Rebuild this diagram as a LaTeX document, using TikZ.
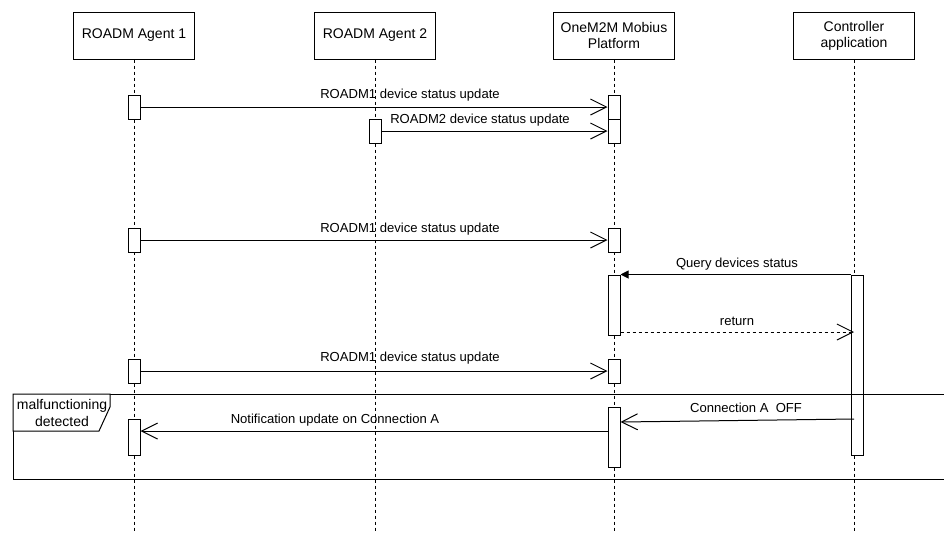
\documentclass[tikz,border=0pt]{standalone}
\usepackage{fontspec}
\setmainfont{Liberation Sans}
\usetikzlibrary{arrows.meta}

\begin{document}
\begin{tikzpicture}[x=0.75pt,y=-0.75pt,line width=0.75pt,
  actor/.style={draw,fill=white,minimum width=90.75pt,minimum height=35.25pt,
    align=center,inner sep=0pt,font=\fontsize{10.5}{12}\selectfont},
  lifeline/.style={dash pattern=on 2.25pt off 2.25pt},
  act/.style={draw,fill=white,minimum width=9pt,inner sep=0pt},
  msg/.style={-{Straight Barb[length=12pt,width=12pt]}},
  call/.style={-{Triangle[length=6pt,width=6pt]}},
  ret/.style={dash pattern=on 2.25pt off 2.25pt,-{Straight Barb[length=12pt,width=12pt]}},
  lbl/.style={inner sep=0pt,font=\fontsize{9.8}{12}\selectfont},
  fraglbl/.style={inner sep=0pt,align=center,font=\fontsize{10.5}{12.5}\selectfont}]

\useasboundingbox (0,0) rectangle (944,533);

% participants
\node[actor] (a1)  at (134,35.5) {ROADM Agent 1};
\node[actor] (a2)  at (375,35.5) {ROADM Agent 2};
\node[actor] (pf)  at (614,35.5) {OneM2M Mobius\\Platform};
\node[actor] (ctl) at (854,35.5) {Controller\\application};

% lifelines
\coordinate (bot) at (0,533);
\foreach \p in {a1,a2,pf,ctl}
  \draw[lifeline] (\p.south) -- (\p.south |- bot);

% activation bars
\node[act,minimum height=18pt]  (a1x1) at (134,107) {};
\node[act,minimum height=18pt]  (a1x2) at (134,240) {};
\node[act,minimum height=18pt]  (a1x3) at (134,371) {};
\node[act,minimum height=27pt]  (a1x4) at (134,437) {};
\node[act,minimum height=18pt]  (a2x1) at (375,131) {};
\node[act,minimum height=18pt]  (pfx1) at (614,107) {};
\node[act,minimum height=18pt]  (pfx2) at (614,131) {};
\node[act,minimum height=18pt]  (pfx3) at (614,240) {};
\node[act,minimum height=45pt]  (pfx4) at (614,305) {};
\node[act,minimum height=18pt]  (pfx5) at (614,371) {};
\node[act,minimum height=45pt]  (pfx6) at (614,437) {};
\node[act,minimum height=135pt] (ctlx) at (857,365) {};

% combined fragment
\draw (13,394) rectangle (948,479);
\draw[fill=white] (13,394) -- (110,394) -- (110,407) -- (99,431) -- (13,431) -- cycle;
\node[fraglbl] (frag) at (62,413) {malfunctioning\\detected};

% messages
\draw[msg] (a1x1.east) -- (pfx1.west |- a1x1.east);
\node[lbl] (m1) at (410,95) {ROADM1 device status update};

\draw[msg] (a2x1.east) -- (pfx2.west |- a2x1.east);
\node[lbl] (m2) at (480,120) {ROADM2 device status update};

\draw[msg] (a1x2.east) -- (pfx3.west |- a1x2.east);
\node[lbl] (m3) at (410,229) {ROADM1 device status update};

\draw[call] (ctlx.north west) -- (pfx4.north east);
\node[lbl] (m4) at (737,264) {Query devices status};

\coordinate (yret) at (0,332);
\draw[ret] (pfx4.east |- yret) -- (ctl.south |- yret);
\node[lbl] (m5) at (737,321) {return};

\draw[msg] (a1x3.east) -- (pfx5.west |- a1x3.east);
\node[lbl] (m6) at (410,358) {ROADM1 device status update};

\coordinate (yoff1) at (0,419);
\coordinate (yoff2) at (0,422);
\draw[msg] (ctl.south |- yoff1) -- (pfx6.east |- yoff2);
\node[lbl] (m7) at (746,408) {Connection A\ \ OFF};

\coordinate (ynot) at (0,431);
\draw[msg] (pfx6.west |- ynot) -- (a1x4.east |- ynot);
\node[lbl] (m8) at (335,420) {Notification update on Connection A};

\end{tikzpicture}
\end{document}
